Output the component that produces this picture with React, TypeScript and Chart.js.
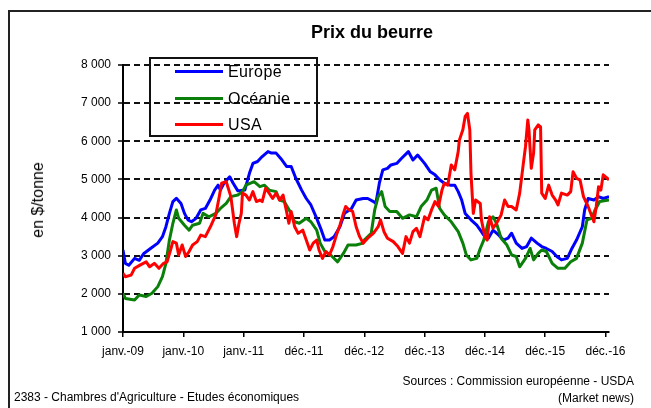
import React, { useEffect, useRef } from "react";
import { Chart, registerables } from "chart.js";

Chart.register(...registerables);

const FONT = "'Liberation Sans', Arial, sans-serif";

// x axis: weeks since January 2009, tick every 52 weeks
const tickWeeks = [0, 52, 104, 156, 208, 260, 312, 364, 416];
const tickLabels = ["janv.-09", "janv.-10", "janv.-11", "déc.-11", "déc.-12", "déc.-13", "déc.-14", "déc.-15", "déc.-16"];
const yTickValues = [1000, 2000, 3000, 4000, 5000, 6000, 7000, 8000];
const lastWeek = 419;

// [week, price in $/tonne]
const europe: [number, number][] = [
  [0, 3150], [2, 2800], [5, 2750], [10, 2930], [14, 2880], [18, 3060], [24, 3195], [30, 3330], [34, 3500], [37, 3760],
  [40, 4110], [43, 4420], [46, 4505], [50, 4370], [53, 4110], [56, 3940], [59, 3890], [63, 3980], [67, 4200], [71, 4240],
  [75, 4460], [79, 4720], [82, 4850], [84, 4720], [87, 4900], [92, 5070], [95, 4900], [99, 4700], [105, 4720], [109, 5160],
  [112, 5420], [116, 5470], [120, 5600], [125, 5730], [128, 5690], [132, 5690], [136, 5550], [141, 5340], [145, 5340], [149, 5030],
  [154, 4720], [158, 4500], [162, 4330], [167, 3980], [171, 3670], [174, 3410], [178, 3410], [182, 3500], [187, 3760], [191, 4110],
  [197, 4240], [201, 4460], [207, 4500], [211, 4500], [216, 4420], [218, 4370], [221, 4900], [224, 5250], [228, 5290], [231, 5380],
  [236, 5420], [240, 5550], [246, 5730], [250, 5510], [254, 5640], [260, 5420], [265, 5200], [269, 5120], [273, 4990], [277, 4900],
  [282, 4850], [286, 4850], [289, 4680], [292, 4460], [295, 4110], [300, 3940], [305, 3800], [309, 3630], [311, 3540], [315, 3460],
  [319, 3670], [324, 3540], [328, 3410], [332, 3460], [335, 3590], [339, 3330], [344, 3190], [348, 3240], [352, 3460], [357, 3330],
  [361, 3240], [365, 3190], [370, 3110], [374, 2980], [378, 2890], [383, 2930], [387, 3190], [391, 3410], [396, 3760], [398, 4200],
  [401, 4500], [406, 4460], [410, 4550], [414, 4500], [419, 4550],
];

const oceanie: [number, number][] = [
  [0, 2015], [2, 1880], [10, 1840], [14, 1970], [20, 1930], [25, 2015], [30, 2190], [34, 2450], [37, 2800], [40, 3410],
  [43, 3850], [46, 4200], [48, 3980], [53, 3800], [57, 3670], [60, 3800], [66, 3850], [69, 4110], [74, 4020], [80, 4110],
  [84, 4240], [89, 4370], [93, 4550], [99, 4590], [103, 4680], [106, 4850], [113, 4940], [118, 4810], [122, 4850], [126, 4720],
  [132, 4680], [135, 4460], [139, 4420], [144, 4160], [148, 3890], [152, 3850], [158, 3980], [162, 3890], [167, 3670], [170, 3330],
  [174, 3110], [179, 3020], [185, 2840], [190, 3060], [194, 3280], [201, 3280], [207, 3330], [208, 3410], [214, 3590], [217, 4200],
  [220, 4550], [223, 4680], [226, 4290], [230, 4160], [236, 4160], [241, 3980], [247, 4070], [253, 4020], [257, 4290], [262, 4460],
  [266, 4720], [270, 4770], [273, 4240], [277, 4070], [283, 3890], [289, 3630], [293, 3330], [296, 3020], [300, 2890], [305, 2930],
  [308, 3190], [311, 3410], [315, 3890], [319, 4020], [322, 3850], [326, 3460], [331, 3280], [335, 3020], [339, 2980], [342, 2710],
  [347, 2930], [351, 3190], [354, 2890], [358, 3060], [361, 3150], [365, 3110], [370, 2800], [375, 2670], [381, 2670], [386, 2840],
  [391, 2930], [396, 3330], [400, 3940], [404, 3980], [407, 4200], [411, 4420], [419, 4460],
];

const usa: [number, number][] = [
  [0, 2540], [2, 2450], [7, 2490], [10, 2670], [15, 2760], [20, 2840], [23, 2710], [27, 2800], [31, 2670], [35, 2800],
  [38, 2840], [41, 3150], [43, 3370], [46, 3330], [48, 3020], [51, 3280], [54, 2980], [57, 3110], [60, 3280], [64, 3370],
  [67, 3540], [71, 3500], [76, 3800], [80, 4070], [83, 4550], [85, 4900], [89, 4940], [93, 4550], [96, 3850], [98, 3500],
  [100, 3850], [102, 4110], [103, 4640], [106, 4590], [109, 4460], [112, 4680], [115, 4420], [118, 4460], [120, 4420], [123, 4770],
  [126, 4640], [129, 4500], [132, 4640], [135, 4460], [138, 4590], [141, 4160], [143, 3850], [145, 4160], [148, 3760], [151, 3590],
  [155, 3670], [158, 3410], [161, 3150], [164, 3330], [167, 3410], [169, 3150], [172, 2930], [175, 3110], [178, 3020], [181, 3240],
  [184, 3540], [187, 3800], [190, 4110], [192, 4290], [195, 4200], [198, 4160], [201, 3760], [204, 3500], [207, 3330], [211, 3460],
  [216, 3590], [220, 3760], [222, 3940], [225, 3630], [228, 3460], [233, 3370], [237, 3240], [241, 3060], [244, 3500], [247, 3330],
  [250, 3630], [253, 3720], [256, 3500], [260, 4020], [263, 3940], [266, 4200], [269, 4420], [272, 4290], [275, 4720], [277, 4900],
  [280, 4850], [283, 5380], [286, 5250], [289, 5730], [290, 6030], [293, 6300], [295, 6650], [297, 6730], [299, 6300], [300, 5160],
  [302, 4110], [304, 4460], [308, 4370], [309, 3940], [312, 3500], [314, 3410], [316, 4020], [319, 3720], [322, 3850], [326, 4070],
  [329, 4460], [332, 4290], [335, 4290], [339, 4200], [342, 4640], [345, 5380], [347, 5860], [349, 6560], [350, 6300], [352, 5290],
  [354, 5690], [355, 6300], [358, 6430], [360, 6380], [361, 4640], [364, 4500], [367, 4850], [370, 4590], [373, 4460], [375, 4330],
  [378, 4640], [383, 4590], [386, 4680], [388, 5200], [391, 5030], [394, 4990], [397, 4550], [401, 4290], [406, 3890], [408, 4290],
  [410, 4810], [412, 4720], [414, 5120], [419, 4990],
];

const seriesNames = ["Europe", "Océanie", "USA"];
const seriesColors = ["#0000ff", "#0a800a", "#ff0000"];

const fmtThousands = (v: number) => String(v).replace(/\B(?=(\d{3})+(?!\d))/g, " ");

const abs = (extra: React.CSSProperties): React.CSSProperties => ({
  position: "absolute",
  whiteSpace: "nowrap",
  fontFamily: FONT,
  color: "#000",
  lineHeight: 1,
  ...extra,
});

export default function App() {
  const ref = useRef<HTMLCanvasElement>(null);

  useEffect(() => {
    const toPts = (a: [number, number][]) => a.map(([x, y]) => ({ x, y }));
    const all = [europe, oceanie, usa];
    const chart = new Chart(ref.current!, {
      type: "line",
      data: {
        datasets: all.map((s, i) => ({
          label: seriesNames[i],
          data: toPts(s),
          borderColor: seriesColors[i],
          backgroundColor: seriesColors[i],
          borderWidth: 3,
          pointRadius: 0,
          tension: 0,
          fill: false,
          borderJoinStyle: "round" as const,
          order: 3 - i,
        })),
      },
      options: {
        responsive: false,
        animation: false,
        devicePixelRatio: 1,
        layout: { padding: { top: 65, right: 42, left: 0, bottom: 0 } },
        plugins: {
          legend: { display: false },
          title: { display: false },
          tooltip: { enabled: false },
        },
        scales: {
          x: {
            type: "linear",
            min: 0,
            max: lastWeek,
            afterBuildTicks: (s: any) => {
              s.ticks = tickWeeks.map((v) => ({ value: v }));
            },
            afterFit: (s: any) => {
              s.height = 76;
            },
            ticks: {
              autoSkip: false,
              maxRotation: 0,
              padding: 7,
              color: "#000",
              font: { family: FONT, size: 12 },
              callback: (_v: any, i: number) => tickLabels[i] ?? "",
            },
            grid: {
              drawOnChartArea: false,
              drawTicks: true,
              tickLength: 5,
              color: "#000",
              lineWidth: 1.5,
            },
            border: { color: "#000", width: 2 },
          },
          y: {
            min: 1000,
            max: 8000,
            afterBuildTicks: (s: any) => {
              s.ticks = yTickValues.map((v) => ({ value: v }));
            },
            afterFit: (s: any) => {
              s.width = 123;
            },
            ticks: {
              padding: 7,
              color: "#000",
              font: { family: FONT, size: 12 },
              callback: (v: any) => fmtThousands(Number(v)),
            },
            grid: {
              color: "#111",
              lineWidth: 2,
              drawTicks: true,
              tickLength: 5,
              tickColor: "#000",
              tickWidth: 1.5,
            },
            border: { color: "#000", width: 2, dash: [6, 4] },
          },
        },
      },
    });
    return () => chart.destroy();
  }, []);

  return (
    <div
      style={{
        position: "fixed",
        left: 0,
        top: 0,
        width: 651,
        height: 408,
        background: "#fff",
        overflow: "hidden",
      }}
    >
      <div
        style={{
          position: "absolute",
          left: 8,
          top: 10,
          width: 700,
          height: 500,
          borderLeft: "2px solid #222",
          borderTop: "2px solid #222",
        }}
      />
      <canvas ref={ref} width={651} height={408} style={{ position: "absolute", left: 0, top: 0 }} />
      <div style={abs({ left: 372, top: 32, transform: "translate(-50%, -50%)", fontSize: 18, fontWeight: "bold" })}>
        Prix du beurre
      </div>
      <div
        style={abs({
          left: 38,
          top: 200,
          transform: "translate(-50%, -50%) rotate(-90deg)",
          fontSize: 16,
        })}
      >
        en $/tonne
      </div>
      <div
        style={{
          position: "absolute",
          left: 149,
          top: 57,
          width: 169,
          height: 80,
          boxSizing: "border-box",
          border: "2px solid #111",
        }}
      >
        {seriesNames.map((n, i) => (
          <React.Fragment key={n}>
            <div
              style={{
                position: "absolute",
                left: 24,
                top: 11 + i * 26.5,
                width: 48,
                height: 3,
                background: seriesColors[i],
              }}
            />
            <div style={abs({ left: 77, top: 13 + i * 26.5, transform: "translateY(-50%)", fontSize: 16, letterSpacing: 0.4 })}>
              {n}
            </div>
          </React.Fragment>
        ))}
      </div>
      <div style={abs({ right: 651 - 634, top: 381, transform: "translateY(-50%)", fontSize: 12 })}>
        Sources : Commission européenne - USDA
      </div>
      <div style={abs({ right: 651 - 634, top: 398, transform: "translateY(-50%)", fontSize: 12 })}>
        (Market news)
      </div>
      <div style={abs({ left: 14, top: 397, transform: "translateY(-50%)", fontSize: 12 })}>
        2383 - Chambres d'Agriculture - Etudes économiques
      </div>
    </div>
  );
}
